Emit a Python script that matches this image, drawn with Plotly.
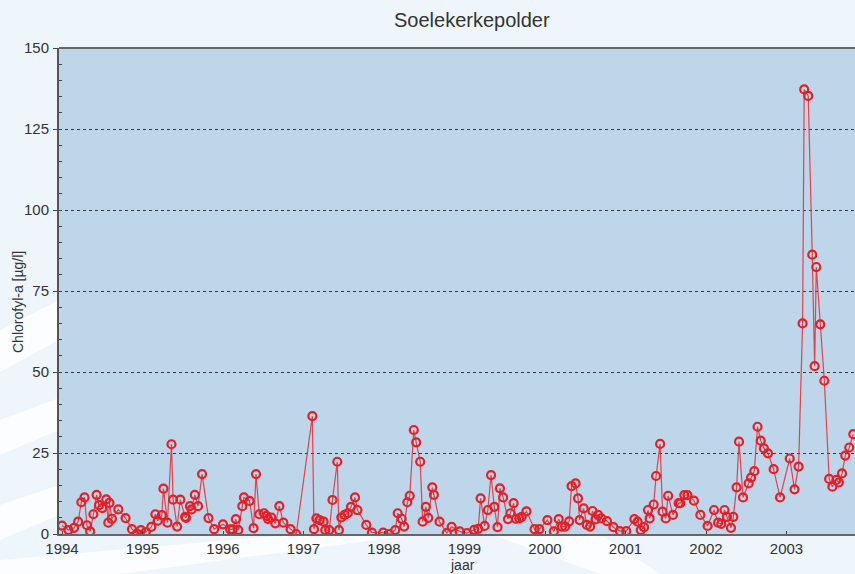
import plotly.graph_objects as go

# ---- data (decimal year, chlorofyl-a in µg/l) ----
dates = [
    1994.00, 1994.08, 1994.15, 1994.20, 1994.24, 1994.28, 1994.31, 1994.35, 1994.39, 1994.43,
    1994.46, 1994.50, 1994.55, 1994.575, 1994.59, 1994.62, 1994.70, 1994.79, 1994.87, 1994.93,
    1994.98, 1995.04, 1995.11, 1995.16, 1995.19, 1995.24, 1995.26, 1995.31, 1995.36, 1995.38,
    1995.43, 1995.47, 1995.53, 1995.54, 1995.59, 1995.61, 1995.65, 1995.69, 1995.74, 1995.82,
    1995.89, 1996.00, 1996.09, 1996.12, 1996.16, 1996.19, 1996.24, 1996.26, 1996.33, 1996.38,
    1996.41, 1996.45, 1996.51, 1996.54, 1996.56, 1996.60, 1996.65, 1996.70, 1996.75, 1996.84,
    1996.91, 1997.11, 1997.13, 1997.16, 1997.20, 1997.25, 1997.27, 1997.32, 1997.36, 1997.42,
    1997.44, 1997.47, 1997.51, 1997.55, 1997.59, 1997.64, 1997.67, 1997.78, 1997.85, 1997.99,
    1998.06, 1998.14, 1998.17, 1998.22, 1998.25, 1998.29, 1998.32, 1998.37, 1998.40, 1998.45,
    1998.48, 1998.52, 1998.55, 1998.60, 1998.62, 1998.69, 1998.78, 1998.84, 1998.94, 1999.03,
    1999.12, 1999.17, 1999.20, 1999.25, 1999.29, 1999.33, 1999.37, 1999.41, 1999.44, 1999.48,
    1999.54, 1999.57, 1999.61, 1999.64, 1999.68, 1999.71, 1999.77, 1999.87, 1999.93, 2000.03,
    2000.11, 2000.17, 2000.21, 2000.25, 2000.30, 2000.33, 2000.38, 2000.41, 2000.43, 2000.48,
    2000.52, 2000.56, 2000.59, 2000.63, 2000.66, 2000.70, 2000.77, 2000.85, 2000.93, 2001.01,
    2001.11, 2001.15, 2001.19, 2001.23, 2001.28, 2001.30, 2001.35, 2001.38, 2001.43, 2001.46,
    2001.50, 2001.53, 2001.59, 2001.66, 2001.68, 2001.73, 2001.77, 2001.85, 2001.93, 2002.02,
    2002.10, 2002.15, 2002.19, 2002.23, 2002.26, 2002.31, 2002.34, 2002.38, 2002.41, 2002.46,
    2002.53, 2002.56, 2002.60, 2002.64, 2002.68, 2002.72, 2002.77, 2002.84, 2002.92, 2003.04,
    2003.10, 2003.15, 2003.20, 2003.22, 2003.27, 2003.32, 2003.35, 2003.37, 2003.42, 2003.47,
    2003.53, 2003.57, 2003.62, 2003.65, 2003.69, 2003.73, 2003.78, 2003.83,
]
chlorofyl = [
    2.6, 1.2, 1.9, 3.8, 9.8, 11.3, 2.7, 0.8, 6.1, 12.1,
    8.9, 8.0, 10.7, 3.5, 9.6, 4.7, 7.6, 4.9, 1.5, 0.1,
    1.2, 0.6, 2.2, 6.1, 4.1, 5.8, 14.0, 3.5, 27.7, 10.6,
    2.3, 10.6, 5.3, 5.0, 8.6, 7.6, 12.1, 8.6, 18.5, 4.9,
    1.5, 3.0, 1.4, 1.4, 4.6, 1.2, 8.6, 11.3, 10.2, 1.8,
    18.5, 6.1, 6.4, 5.6, 4.6, 5.1, 3.3, 8.6, 3.5, 1.5,
    0.0, 36.4, 1.5, 4.8, 4.3, 3.8, 1.2, 1.2, 10.5, 22.3,
    1.2, 5.1, 5.9, 6.4, 8.4, 11.3, 7.4, 2.8, 0.4, 0.4,
    0.0, 1.2, 6.4, 4.7, 2.3, 9.8, 11.8, 32.1, 28.3, 22.3,
    3.8, 8.4, 5.0, 14.4, 12.1, 3.8, 0.3, 2.2, 0.8, 0.3,
    1.3, 1.6, 11.0, 2.5, 7.4, 18.2, 8.4, 2.1, 14.1, 11.3,
    4.6, 6.4, 9.5, 4.7, 4.8, 5.3, 7.0, 1.5, 1.5, 4.3,
    0.8, 4.6, 2.3, 2.3, 3.9, 14.8, 15.6, 11.0, 4.3, 7.9,
    2.8, 2.3, 7.1, 4.5, 5.9, 4.8, 4.0, 2.1, 0.9, 0.9,
    4.6, 3.8, 1.2, 2.1, 7.4, 4.8, 9.1, 17.9, 27.8, 6.9,
    4.8, 11.8, 5.9, 9.5, 9.5, 12.0, 12.0, 10.3, 5.9, 2.5,
    7.4, 3.5, 3.1, 7.4, 5.3, 1.9, 5.3, 14.4, 28.5, 11.3,
    15.6, 17.4, 19.4, 33.1, 28.8, 26.4, 24.9, 20.0, 11.3, 23.3,
    13.8, 20.8, 65.0, 137.2, 135.2, 86.2, 51.8, 82.4, 64.7, 47.3,
    17.0, 14.6, 16.7, 15.9, 18.7, 24.2, 26.7, 30.8,
]
year_ticks = [1994, 1995, 1996, 1997, 1998, 1999, 2000, 2001, 2002, 2003]
year_labels = [str(y) for y in year_ticks]
y_ticks = [0, 25, 50, 75, 100, 125, 150]

title_text = "Soelekerkepolder"
x_title = "jaar"
y_title = "Chlorofyl-a [µg/l]"

# ---- layout geometry (pixels) ----
W, H = 855, 574
L, R, T, B = 59, 0, 48, 40
PW, PH = W - L - R, H - T - B

def px(x):
    return (x - L) / PW

def py(y):
    return (H - B - y) / PH

FONT = "Liberation Sans, Arial, sans-serif"
TXT = "#333333"
PAPER = "#eef6fc"
PLOTBG = "#bed6ea"
RED = "#ec1c24"

fig = go.Figure()
fig.add_trace(go.Scatter(
    x=dates, y=chlorofyl, mode="lines+markers",
    line=dict(color="rgba(232,40,48,0.85)", width=1.2),
    marker=dict(symbol="circle-open", size=8, color=RED, line=dict(width=2.2, color=RED)),
    hoverinfo="x+y", showlegend=False, cliponaxis=True,
))

# decorative white swooshes in the background, then plot background on top
shapes = []
bands = [
    [(0, 330), (59, 300), (59, 340), (0, 372)],
    [(0, 420), (59, 398), (59, 430), (0, 455)],
    [(0, 505), (59, 485), (59, 515), (0, 540)],
    [(0, 560), (300, 534), (420, 534), (120, 574), (0, 574)],
    [(490, 534), (600, 534), (660, 574), (600, 574)],
]
for poly in bands:
    path = "M " + " L ".join(f"{px(a):.4f},{py(b):.4f}" for a, b in poly) + " Z"
    shapes.append(dict(type="path", path=path, xref="paper", yref="paper",
                       fillcolor="rgba(255,255,255,0.75)", line=dict(width=0), layer="below"))
shapes.append(dict(type="rect", xref="paper", yref="paper", x0=0, x1=1, y0=0, y1=1,
                   fillcolor=PLOTBG, line=dict(width=0), layer="below"))
# top frame line
shapes.append(dict(type="line", xref="paper", yref="paper", x0=0, x1=1, y0=1, y1=1,
                   line=dict(color="#666666", width=2), layer="above"))

x0 = 1994 - (62 - L) / 80.5
x1 = 1994 + (W - 62) / 80.5

fig.update_layout(
    width=W, height=H,
    margin=dict(l=L, r=R, t=T, b=B, pad=0),
    paper_bgcolor=PAPER, plot_bgcolor="rgba(0,0,0,0)",
    font=dict(family=FONT, size=15, color=TXT),
    shapes=shapes,
    xaxis=dict(
        range=[x0, x1], tickmode="array", tickvals=year_ticks, ticktext=year_labels,
        ticks="inside", ticklen=3, tickcolor="#444444", tickwidth=1,
        showline=True, linecolor="#666666", linewidth=2,
        showgrid=False, zeroline=False, fixedrange=True,
        tickfont=dict(family=FONT, size=15, color=TXT),
    ),
    yaxis=dict(
        range=[0, 150], tickmode="array", tickvals=y_ticks,
        ticks="outside", ticklen=4, tickcolor="#444444", tickwidth=1,
        minor=dict(dtick=5, ticks="inside", ticklen=3, tickcolor="#444444", tickwidth=1, showgrid=False),
        showline=True, linecolor="#555555", linewidth=2,
        showgrid=True, gridcolor="#3a3a3a", griddash="dot", gridwidth=1,
        zeroline=False, fixedrange=True, ticklabelstandoff=1,
        tickfont=dict(family=FONT, size=15, color=TXT),
    ),
    annotations=[
        dict(text=title_text, x=px(472), y=py(20), xref="paper", yref="paper",
             xanchor="center", yanchor="middle", showarrow=False,
             font=dict(family=FONT, size=20, color=TXT)),
        dict(text=x_title, x=px(462), y=py(565), xref="paper", yref="paper",
             xanchor="center", yanchor="middle", showarrow=False,
             font=dict(family=FONT, size=14, color=TXT)),
        dict(text=y_title, x=px(18), y=py(302), xref="paper", yref="paper",
             xanchor="center", yanchor="middle", showarrow=False, textangle=-90,
             font=dict(family=FONT, size=14, color=TXT)),
    ],
)

fig.write_html("out.html", config={"displayModeBar": False})

# remove the default page margin so the figure sits at the window's top-left corner
with open("out.html", "r", encoding="utf-8") as f:
    html = f.read()
html = html.replace("<head>", "<head><style>html,body{margin:0;padding:0;overflow:hidden;}</style>", 1)
with open("out.html", "w", encoding="utf-8") as f:
    f.write(html)
